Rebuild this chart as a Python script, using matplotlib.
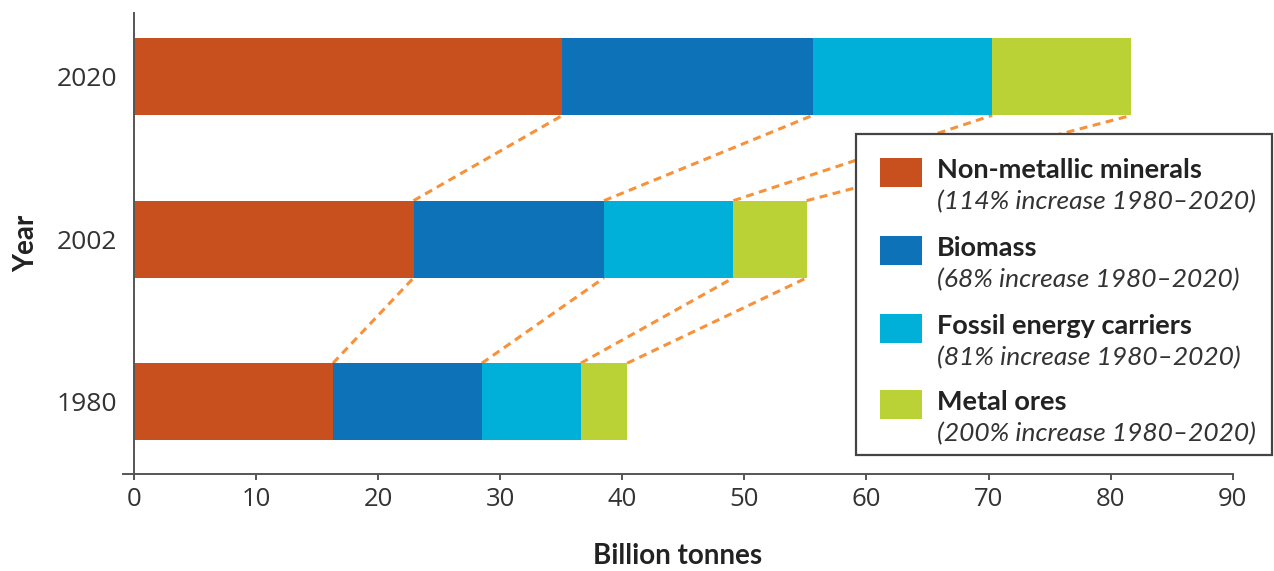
import numpy as np
import matplotlib
matplotlib.use("Agg")
import matplotlib.pyplot as plt
from matplotlib.patches import Rectangle

# values (billion tonnes)
years = ["1980", "2002", "2020"]
non_metallic = [16.3, 22.9, 35.1]
biomass = [12.2, 15.6, 20.5]
fossil = [8.1, 10.6, 14.7]
metal = [3.8, 6.0, 11.4]

names = ["Non-metallic minerals", "Biomass", "Fossil energy carriers", "Metal ores"]
notes = ["(114% increase 1980\u20132020)", "(68% increase 1980\u20132020)",
         "(81% increase 1980\u20132020)", "(200% increase 1980\u20132020)"]
colors = ["#C8501E", "#0E72B8", "#00B0D8", "#BAD236"]
dash_color = "#F7923A"

W, H = 1274, 571
fig = plt.figure(figsize=(W / 100, H / 100), dpi=100)


def fx(px):
    return px / W


def fy(py):
    return 1 - py / H


ax = fig.add_axes([fx(122.6), fy(474.3), fx(1232.7) - fx(122.6), fy(12.7) - fy(474.3)])

pos = np.arange(len(years))
bh = 0.475
series = [non_metallic, biomass, fossil, metal]
left = np.zeros(len(years))
cums = []
for vals, c in zip(series, colors):
    ax.barh(pos, vals, left=left, height=bh, color=c, edgecolor="none", zorder=2)
    left = left + np.array(vals)
    cums.append(left.copy())

# dashed connectors between segment ends of consecutive years
for cum in cums:
    for i in range(len(years) - 1):
        ax.plot([cum[i], cum[i + 1]], [pos[i] + bh / 2, pos[i + 1] - bh / 2],
                color=dash_color, lw=2.2, linestyle=(0, (2.6, 1.8)), zorder=1)

ax.set_xlim(-0.93, 90)
ax.set_ylim(-0.446, 2.394)
ax.set_yticks(pos)
ax.set_yticklabels(years)
ax.set_xticks(np.arange(0, 91, 10))

for s in ["top", "right"]:
    ax.spines[s].set_visible(False)
ax.spines["left"].set_position(("data", 0))
for s in ["left", "bottom"]:
    ax.spines[s].set_color("#555555")
    ax.spines[s].set_linewidth(1.4)

ax.tick_params(axis="y", length=0, pad=12, labelsize=19, labelcolor="#333333")
ax.tick_params(axis="x", direction="out", length=4.5, width=1.4, color="#555555",
               pad=5, labelsize=18.5, labelcolor="#333333")
for lab in ax.get_xticklabels() + ax.get_yticklabels():
    lab.set_fontfamily("Open Sans")

ax.set_xlabel("Billion tonnes", fontsize=20, fontweight="bold", family="Lato",
              color="#222222", labelpad=22)
ax.set_ylabel("Year", fontsize=20, fontweight="bold", family="Lato",
              color="#222222", labelpad=13)

# legend box drawn by hand so each entry gets a bold name and an italic note
box = Rectangle((fx(856), fy(455)), fx(1271.5) - fx(856), fy(134) - fy(455),
                transform=fig.transFigure, facecolor="white", edgecolor="#444444",
                lw=1.6, zorder=5)
fig.add_artist(box)
rows = [172, 250, 328, 404]
for r, name, note, c in zip(rows, names, notes, colors):
    fig.add_artist(Rectangle((fx(880), fy(r + 14.5)), fx(42), fy(0) - fy(29),
                             transform=fig.transFigure, facecolor=c,
                             edgecolor="none", zorder=6))
    fig.text(fx(937), fy(r - 2), name, fontsize=19.5, fontweight="bold", family="Lato",
             color="#222222", va="center", ha="left", zorder=7)
    fig.text(fx(937), fy(r + 30), note, fontsize=19, style="italic", family="Lato",
             color="#333333", va="center", ha="left", zorder=7)

fig.savefig("out.png", dpi=100)
